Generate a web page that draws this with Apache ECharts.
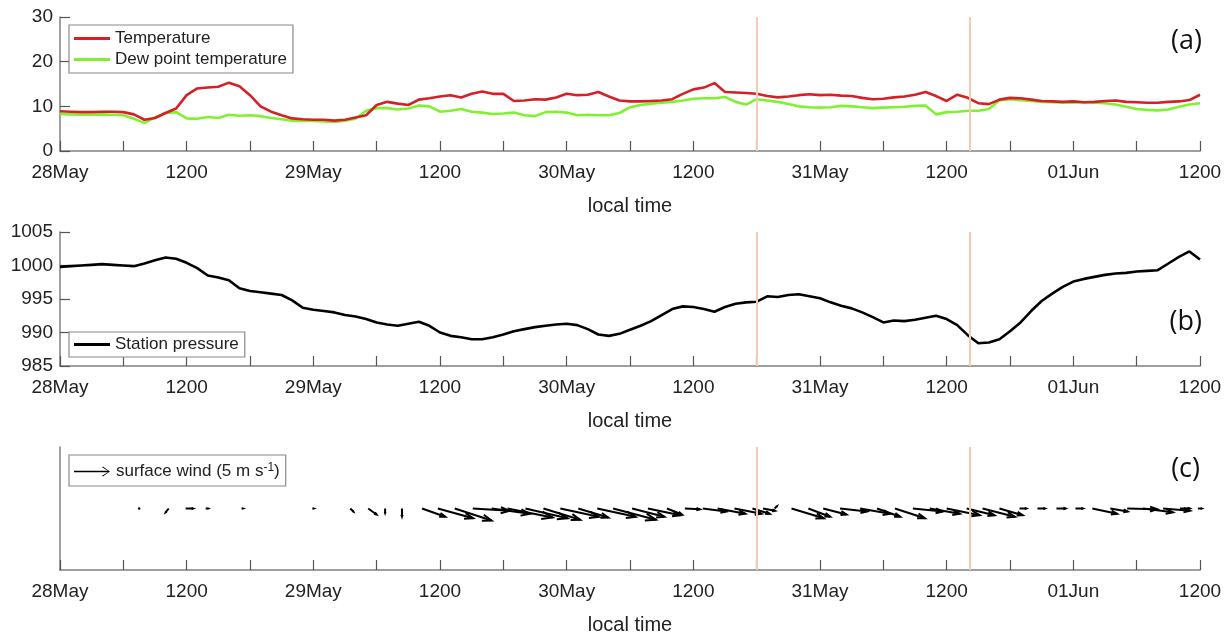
<!DOCTYPE html>
<html>
<head>
<meta charset="utf-8">
<script src="https://cdn.jsdelivr.net/npm/echarts@6/dist/echarts.min.js"></script>
<style>
html,body{margin:0;padding:0;background:#fff;}
#chart{width:1231px;height:636px;}
</style>
</head>
<body>
<div id="chart"></div>
<script>
// ---- data (hours since 28 May 00:00 local time) ----
const xTickLabels = ['28May','1200','29May','1200','30May','1200','31May','1200','01Jun','1200'];
const eventTimes = [66, 86.2];

// hourly temperature (°C), h = 0..108
const temperature = [
 8.9,8.8,8.7,8.7,8.8,8.8,8.7,8.2,7.0,7.4,
 8.5,9.5,12.5,14.0,14.2,14.4,15.3,14.5,12.5,10.0,
 8.8,8.0,7.3,7.1,7.0,7.0,6.8,7.0,7.5,8.0,
 10.3,11.0,10.6,10.3,11.5,11.8,12.2,12.5,12.0,12.8,
 13.3,12.8,12.8,11.2,11.3,11.6,11.5,12.0,12.8,12.5,
 12.6,13.2,12.2,11.3,11.1,11.1,11.2,11.3,11.6,12.8,
 13.8,14.2,15.2,13.2,13.1,13.0,12.8,12.3,12.0,12.2,
 12.5,12.7,12.5,12.6,12.4,12.3,11.9,11.6,11.7,12.0,
 12.2,12.6,13.2,12.3,11.2,12.6,11.9,10.7,10.5,11.5,
 11.9,11.8,11.5,11.2,11.1,11.0,11.1,10.9,11.0,11.2,
 11.3,11.0,10.9,10.8,10.8,11.0,11.1,11.4,12.6
];
// hourly dew point temperature (°C)
const dewPoint = [
 8.3,8.2,8.1,8.1,8.2,8.1,8.0,7.2,6.3,7.5,
 8.5,8.7,7.3,7.2,7.6,7.4,8.1,7.9,8.0,7.8,
 7.4,7.1,6.8,6.7,6.7,6.6,6.5,6.8,7.2,9.0,
 9.6,9.6,9.3,9.5,10.2,10.0,8.8,9.0,9.4,8.8,
 8.6,8.3,8.4,8.6,8.0,7.8,8.7,8.8,8.6,8.0,
 8.1,8.0,8.0,8.5,9.8,10.3,10.6,10.8,11.0,11.3,
 11.7,11.8,11.8,12.1,11.0,10.4,11.6,11.3,11.0,10.5,
 10.0,9.8,9.7,9.8,10.1,10.0,9.8,9.6,9.7,9.8,
 9.9,10.1,10.2,8.2,8.7,8.8,9.0,9.0,9.4,11.3,
 11.6,11.4,11.2,11.0,10.9,10.8,10.8,10.9,10.8,10.7,
 10.4,9.9,9.4,9.2,9.1,9.3,9.9,10.4,10.7
];
// hourly station pressure (hPa)
const pressure = [
 999.8,999.9,1000.0,1000.1,1000.2,1000.1,1000.0,999.9,1000.3,1000.8,
 1001.2,1001.0,1000.4,999.6,998.5,998.2,997.8,996.6,996.2,996.0,
 995.8,995.6,994.8,993.7,993.4,993.2,993.0,992.6,992.4,992.0,
 991.5,991.2,991.0,991.3,991.6,991.0,990.0,989.5,989.3,989.0,
 989.0,989.3,989.7,990.2,990.5,990.8,991.0,991.2,991.3,991.1,
 990.5,989.7,989.5,989.8,990.4,991.0,991.7,992.6,993.5,993.9,
 993.8,993.5,993.1,993.8,994.3,994.5,994.6,995.4,995.3,995.6,
 995.7,995.4,995.1,994.5,994.0,993.6,993.0,992.3,991.5,991.8,
 991.7,991.9,992.2,992.5,992.0,991.1,989.6,988.4,988.5,989.0,
 990.2,991.5,993.2,994.7,995.8,996.8,997.6,998.0,998.3,998.6,
 998.8,998.9,999.1,999.2,999.3,1000.3,1001.3,1002.1,1000.9
];
// surface wind vectors: time (h), u (m/s, eastward), v (m/s, northward)
const windTime = [7.5,10.3,11.9,13.8,17.2,23.9,27.5,29.2,30.8,32.4,
 34.3,35.8,37.4,39.1,40.9,42.4,44.1,45.8,47.4,49.1,50.9,52.4,54.2,55.7,57.5,59.2,
 60.9,62.3,63.9,65.6,66.6,67.7,69.3,70.9,72.3,73.9,75.8,77.4,79.1,80.8,82.4,84.0,85.9,
 87.4,89.0,90.9,92.6,94.4,96.2,97.8,99.5,101.1,102.6,104.5,106.1,107.8];
const windU = [0.15,-0.4,1.0,0.3,0.2,0.2,0.4,1.1,0.0,0.0,
 3.1,4.7,4.9,4.9,5.1,6.0,5.6,4.9,5.1,4.0,5.1,5.7,4.3,4.3,2.0,2.0,
 3.1,3.7,3.6,2.3,1.6,0.3,4.3,2.9,3.1,3.6,4.0,3.1,4.0,4.0,4.0,4.4,3.7,
 4.3,3.1,0.9,1.0,1.2,1.0,3.3,2.3,4.0,4.0,3.6,1.3,0.5];
const windV = [0.0,-0.5,0.0,0.0,0.0,0.0,-0.4,-0.8,-0.6,-1.1,
 -1.1,-1.3,-1.6,-0.3,-0.7,-1.2,-1.3,-1.5,-1.1,-1.2,-1.1,-1.5,-1.1,-0.9,-0.8,-0.1,
 -0.4,-0.7,-0.7,-0.7,-0.3,0.3,-1.3,-1.1,-0.8,-0.4,-0.7,-1.1,-1.3,-0.4,-0.7,-0.9,-0.9,
 -1.1,-0.9,0.0,0.0,0.0,0.0,-0.7,-0.4,-0.1,-0.5,-0.3,0.0,0.0];

// ---- chart ----
const FONT = 'Liberation Sans';
const PX_PER_MS = 7.5;
const hours = temperature.map((_, i) => i);
const pair = arr => arr.map((v, i) => [hours[i], v]);
const windData = windTime.map((t, i) => [t, windU[i], windV[i]]);

const gridTops = [17, 232, 447];
const grids = gridTops.map(t => ({left: 60, right: 31, top: t, height: 134}));

function xAxisFor(i) {
  return {
    type: 'value', gridIndex: i, min: 0, max: 108, interval: 6,
    name: 'local time', nameLocation: 'middle', nameGap: 45,
    nameTextStyle: {fontFamily: FONT, fontSize: 20, color: '#222'},
    axisLine: {show: true, onZero: false, lineStyle: {color: '#808080', width: 1.5}},
    axisTick: {show: true, inside: true, length: 10, lineStyle: {color: '#555', width: 1.2}},
    axisLabel: {
      fontFamily: FONT, fontSize: 19, color: '#222', margin: 12,
      showMinLabel: true, showMaxLabel: true,
      formatter: v => (v % 12 === 0 ? xTickLabels[v / 12] : '')
    },
    splitLine: {show: false}
  };
}
const yBase = {
  type: 'value',
  axisLine: {show: true, onZero: false, lineStyle: {color: '#808080', width: 1.5}},
  axisTick: {show: true, inside: true, length: 10, lineStyle: {color: '#555', width: 1.2}},
  axisLabel: {fontFamily: FONT, fontSize: 19, color: '#222', margin: 7, formatter: v => String(v)},
  splitLine: {show: false}
};

const eventLine = grid => ({
  name: 'events' + grid, type: 'line', xAxisIndex: grid, yAxisIndex: grid, data: [],
  silent: true,
  markLine: {
    silent: true, symbol: ['none', 'none'], label: {show: false},
    lineStyle: {color: '#f3cbb2', width: 2, type: 'solid'},
    emphasis: {disabled: true},
    data: eventTimes.map(t => ({xAxis: t}))
  }
});

function renderArrow(params, api) {
  const t = api.value(0), u = api.value(1), v = api.value(2);
  const p = api.coord([t, 0]);
  const ex = p[0] + u * PX_PER_MS, ey = p[1] - v * PX_PER_MS;
  const len = Math.hypot(ex - p[0], ey - p[1]);
  const ang = Math.atan2(ey - p[1], ex - p[0]);
  const h = len * 0.25;
  const a = 0.33;
  const style = {stroke: '#000', lineWidth: 2, fill: null};
  if (len < 1.5) {
    return {type: 'circle', shape: {cx: p[0], cy: p[1], r: 1.2}, style: {fill: '#000'}};
  }
  return {
    type: 'group',
    children: [
      {type: 'polyline', shape: {points: [p, [ex, ey]]}, style},
      {type: 'polyline', shape: {points: [
        [ex - h * Math.cos(ang - a), ey - h * Math.sin(ang - a)],
        [ex, ey],
        [ex - h * Math.cos(ang + a), ey - h * Math.sin(ang + a)]
      ]}, style}
    ]
  };
}

const legendCommon = {
  orient: 'vertical', left: 69,
  backgroundColor: '#fff', borderColor: '#8a8a8a', borderWidth: 1.2,
  itemWidth: 36, itemHeight: 3, itemGap: 4, icon: 'rect',
  padding: [5, 6, 5, 5],
  selectedMode: false,
  textStyle: {fontFamily: FONT, fontSize: 17, color: '#222'}
};

const option = {
  animation: false,
  backgroundColor: '#fff',
  grid: grids,
  title: [
    {text: '(a)', right: 29, top: 28},
    {text: '(b)', right: 29, top: 309},
    {text: '(c)', right: 31, top: 456}
  ].map(t => Object.assign(t, {textStyle: {fontFamily: 'Open Sans', fontSize: 27, fontWeight: 'normal', color: '#111'}, padding: 0})),
  legend: [
    Object.assign({}, legendCommon, {top: 25, data: ['Temperature', 'Dew point temperature']}),
    Object.assign({}, legendCommon, {top: 332, padding: [4, 6, 4, 5], data: ['Station pressure']}),
    Object.assign({}, legendCommon, {
      top: 455, padding: [7, 6, 6, 5],
      itemHeight: 10, itemWidth: 38,
      data: [{name: 'wind', icon: 'path://M0,4.3 L34,4.3 L28,0.8 L28.8,0 L36,5 L28.8,10 L28,9.2 L34,5.7 L0,5.7 Z'}],
      formatter: () => 'surface wind (5 m s{sup|-1})',
      textStyle: {fontFamily: FONT, fontSize: 17, color: '#222',
        rich: {sup: {fontFamily: FONT, fontSize: 12, color: '#222', verticalAlign: 'top', padding: [0, 0, 7, 0]}}}
    })
  ],
  xAxis: [xAxisFor(0), xAxisFor(1), xAxisFor(2)],
  yAxis: [
    Object.assign({}, yBase, {gridIndex: 0, min: 0, max: 30, interval: 10}),
    Object.assign({}, yBase, {gridIndex: 1, min: 985, max: 1005, interval: 5}),
    Object.assign({}, yBase, {gridIndex: 2, min: -1, max: 1, axisTick: {show: false}, axisLabel: {show: false}})
  ],
  series: [
    eventLine(0), eventLine(1), eventLine(2),
    {name: 'Temperature', type: 'line', xAxisIndex: 0, yAxisIndex: 0, symbol: 'none',
     data: pair(temperature), lineStyle: {color: '#d42027', width: 2.6}, itemStyle: {color: '#d42027'}, z: 4},
    {name: 'Dew point temperature', type: 'line', xAxisIndex: 0, yAxisIndex: 0, symbol: 'none',
     data: pair(dewPoint), lineStyle: {color: '#7ff230', width: 2.6}, itemStyle: {color: '#7ff230'}, z: 3},
    {name: 'Station pressure', type: 'line', xAxisIndex: 1, yAxisIndex: 1, symbol: 'none',
     data: pair(pressure), lineStyle: {color: '#000', width: 2.6}, itemStyle: {color: '#000'}, z: 4},
    {name: 'wind', type: 'custom', xAxisIndex: 2, yAxisIndex: 2,
     data: windData, encode: {x: 0}, renderItem: renderArrow, itemStyle: {color: '#000'}, z: 4}
  ]
};

const chart = echarts.init(document.getElementById('chart'), null, {renderer: 'canvas'});
chart.setOption(option);
</script>
</body>
</html>
